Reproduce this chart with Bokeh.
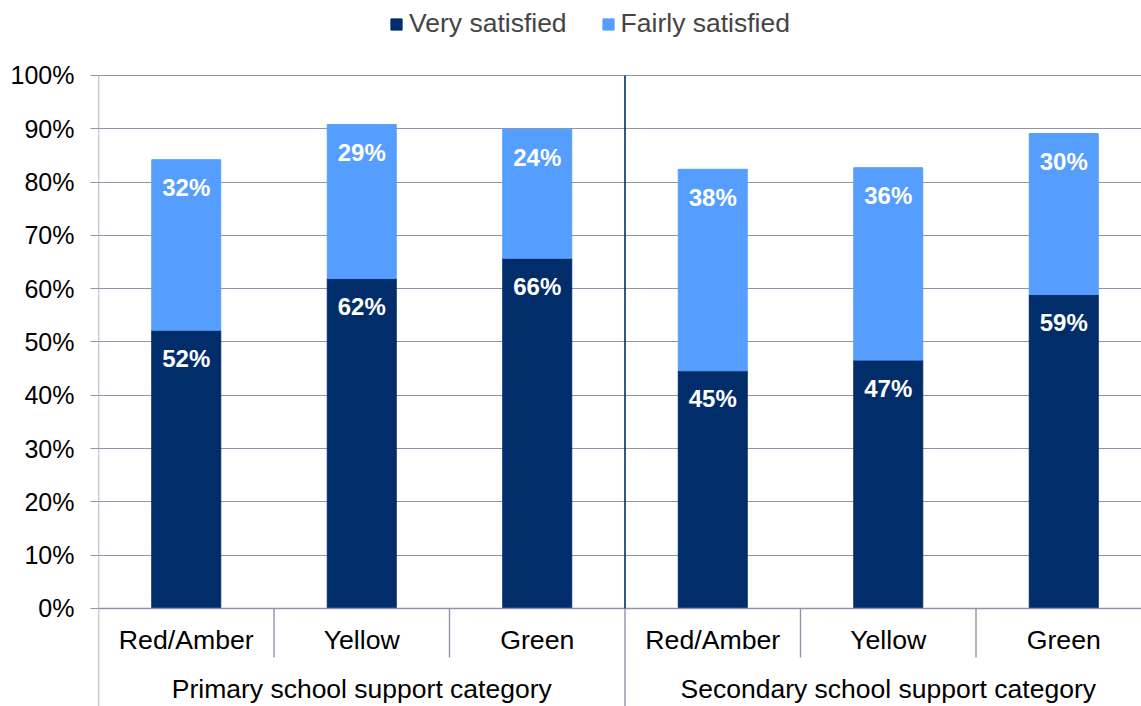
from bokeh.plotting import figure
from bokeh.models import ColumnDataSource, FixedTicker, PrintfTickFormatter, Legend, LegendItem, Range1d
from bokeh.core.properties import value
from bokeh.embed import file_html
from bokeh.resources import INLINE

categories = ["Red/Amber", "Yellow", "Green", "Red/Amber", "Yellow", "Green"]
groups = ["Primary school support category", "Secondary school support category"]
very_satisfied = [52.2, 61.9, 65.7, 44.6, 46.6, 58.9]
fairly_satisfied = [32.0, 28.9, 24.2, 37.8, 36.1, 30.2]
series_names = ["Very satisfied", "Fairly satisfied"]
y_ticks = [0, 10, 20, 30, 40, 50, 60, 70, 80, 90, 100]

DARK = "#022D6B"
LIGHT = "#559EFF"
GRID = "#9193A8"
FONT = "Liberation Sans"

n = len(categories)
xc = [i + 0.5 for i in range(n)]
tops = [a + b for a, b in zip(very_satisfied, fairly_satisfied)]

src = ColumnDataSource(dict(
    x=xc, vs=very_satisfied, fs=fairly_satisfied, top=tops,
    vs_lab=[f"{round(v)}%" for v in very_satisfied],
    fs_lab=[f"{round(v)}%" for v in fairly_satisfied],
    cat=categories,
))

p = figure(width=1141, height=706, output_backend="svg", toolbar_location=None,
           x_range=Range1d(0, 5.943), y_range=Range1d(-18.39, 114.07),
           min_border_left=98, min_border_right=0, min_border_top=0, min_border_bottom=0)
p.outline_line_color = None
p.xaxis.visible = False
p.xgrid.visible = False
p.ygrid.ticker = FixedTicker(ticks=y_ticks[1:])
p.ygrid.grid_line_color = GRID
p.ygrid.grid_line_width = 1.2

ax = p.yaxis[0]
ax.ticker = FixedTicker(ticks=y_ticks)
ax.formatter = PrintfTickFormatter(format="%d%%")
ax.axis_line_color = None
ax.major_tick_line_color = GRID
ax.major_tick_line_width = 1.2
ax.major_tick_out = 8
ax.major_tick_in = 0
ax.minor_tick_line_color = None
ax.major_label_text_font = FONT
ax.major_label_text_font_size = "25px"
ax.major_label_text_color = "#000000"
ax.major_label_standoff = 16

bw = 0.393
r1 = p.vbar(x="x", bottom=0, top="vs", width=bw, color=DARK, source=src)
r2 = p.vbar(x="x", bottom="vs", top="top", width=bw, color=LIGHT, source=src)

# axis / separator lines
ymin = -18.39
p.segment(x0=[0], y0=[0], x1=[5.943], y1=[0], line_color=GRID, line_width=1.4)
p.segment(x0=[0], y0=[ymin], x1=[0], y1=[100], line_color=GRID, line_width=1.4)
p.segment(x0=[3], y0=[0], x1=[3], y1=[100], line_color=DARK, line_width=1.6)
p.segment(x0=[3], y0=[ymin], x1=[3], y1=[0], line_color=GRID, line_width=1.4)
p.segment(x0=[1, 2, 4, 5], y0=[0] * 4, x1=[1, 2, 4, 5], y1=[-9.2] * 4, line_color=GRID, line_width=1.4)

# bar value labels
p.text(x="x", y="vs", text="vs_lab", source=src, text_align="center", text_baseline="middle",
       y_offset=28, text_color="white", text_font=value(FONT), text_font_style="bold",
       text_font_size="24px")
p.text(x="x", y="top", text="fs_lab", source=src, text_align="center", text_baseline="middle",
       y_offset=28, text_color="white", text_font=value(FONT), text_font_style="bold",
       text_font_size="24px")

# category labels
p.text(x="x", y=-6.0, text="cat", source=src, text_align="center", text_baseline="middle",
       text_color="black", text_font=value(FONT), text_font_size="26.7px")
p.text(x=[1.5, 4.5], y=[-15.2, -15.2], text=groups, text_align="center", text_baseline="middle",
       text_color="black", text_font=value(FONT), text_font_size="26.5px")

legend = Legend(items=[LegendItem(label=series_names[0], renderers=[r1]),
                       LegendItem(label=series_names[1], renderers=[r2])],
                location=(291, 667), orientation="horizontal",
                border_line_alpha=0, background_fill_alpha=0,
                glyph_width=14, glyph_height=14, label_standoff=6, spacing=34,
                padding=0, margin=0,
                label_text_font=FONT, label_text_font_size="26.5px")
p.add_layout(legend)

open("out.html", "w").write(file_html(p, INLINE))
